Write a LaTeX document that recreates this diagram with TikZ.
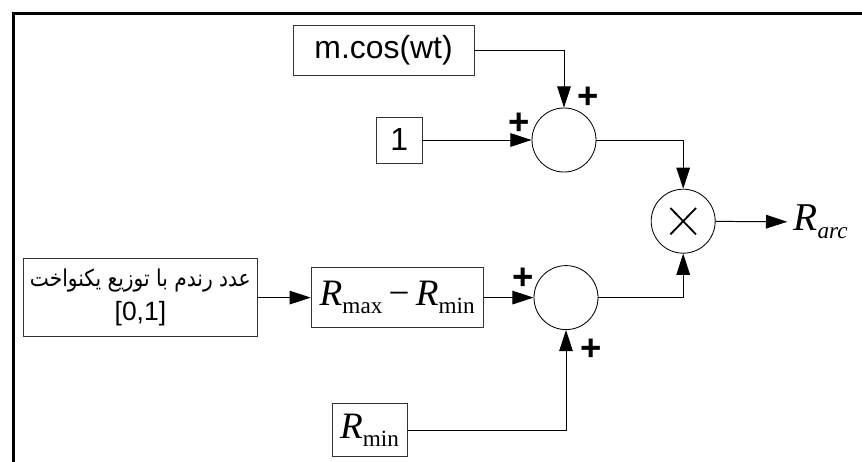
\documentclass[tikz,border=0pt]{standalone}
\usepackage{fontspec}
\setmainfont{Liberation Sans}
\newfontfamily\timesf{Liberation Serif}
\newfontfamily\arabicfont[Script=Arabic]{DejaVu Sans}
\TeXXeTstate=1
\usetikzlibrary{arrows.meta,positioning,calc}
\newcommand{\Rsub}[1]{{\itshape R}\raisebox{-0.2cm}{\fontsize{16.5}{16.5}\selectfont #1}}
\tikzset{
  blk/.style={draw=black!80, line width=0.6pt, inner sep=0pt, align=center,
    font=\fontsize{22.7}{27}\selectfont},
  sum/.style={circle, draw, line width=0.6pt, minimum size=1.6cm, inner sep=0pt},
  sig/.style={line width=0.7pt, -{Triangle[length=5.3mm,width=3.4mm]}},
  sgn/.style={font=\bfseries\fontsize{26}{26}\selectfont, inner sep=0pt},
  rtx/.style={font=\timesf\fontsize{26.5}{30}\selectfont},
}
\begin{document}
\begin{tikzpicture}
\useasboundingbox (0,0) rectangle (21.55,-11.55);
\fill[white] (0,0) rectangle (21.55,-11.55);
% --- frame
\draw[line width=2.3pt] (0.34,-11.55) |- (21.55,-0.34);
% --- upper branch
\node[blk, minimum width=4.53cm, minimum height=1.23cm] (cos) at (9.59,-1.26) {m.cos(wt)};
\node[sum] (S1) at (14.10,-3.50) {};
\node[blk, minimum size=1.15cm] (one) at (9.98,-3.50) {1};
% --- product
\node[sum] (M) at (17.08,-5.53) {};
\draw[line width=1.3pt] ($(M.center)+(-0.32,-0.33)$) -- ($(M.center)+(0.32,0.33)$)
  ($(M.center)+(-0.32,0.33)$) -- ($(M.center)+(0.32,-0.33)$);
\node[rtx, font=\timesf\fontsize{28}{30}\selectfont, anchor=west, inner xsep=0.15cm] (out) at (19.68,-5.55) {\Rsub{\itshape arc}};
% --- lower branch
\node[blk, minimum width=5.83cm, minimum height=1.95cm, font=\fontsize{18.8}{24}\selectfont] (rnd) at (3.51,-7.44)
  {\scalebox{0.87}[1]{\arabicfont\fontsize{16.5}{24}\selectfont\beginR عدد رندم با توزیع یکنواخت\endR}\\{[0,1]}};
\node[blk, rtx, minimum width=4.3cm, minimum height=1.51cm] (rmx) at (9.93,-7.44) {\Rsub{max}\,−\,\Rsub{min}};
\node[sum] (S2) at (14.15,-7.44) {};
\node[blk, rtx, minimum width=1.88cm, minimum height=1.31cm] (rmn) at (9.24,-10.75) {\Rsub{min}};
% --- signs
\node[sgn] (p1) at ($(S1.north)+(0.6,0.25)$) {+};
\node[sgn] (p2) at ($(S1.west)+(-0.3,0.4)$) {+};
\node[sgn] (p3) at ($(S2.west)+(-0.27,0.48)$) {+};
\node[sgn] (p4) at ($(S2.south)+(0.63,-0.5)$) {+};
% --- connections
\draw[sig] (cos.east) -| (S1.north);
\draw[sig] (one) -- (S1);
\draw[sig] (S1.east) -| (M.north);
\draw[sig] (rnd) -- (rmx);
\draw[sig] (rmx) -- (S2);
\draw[sig] (rmn.east) -| (S2.south);
\draw[sig] (S2.east) -| (M.south);
\draw[sig] (M) -- (out);
\end{tikzpicture}
\end{document}
